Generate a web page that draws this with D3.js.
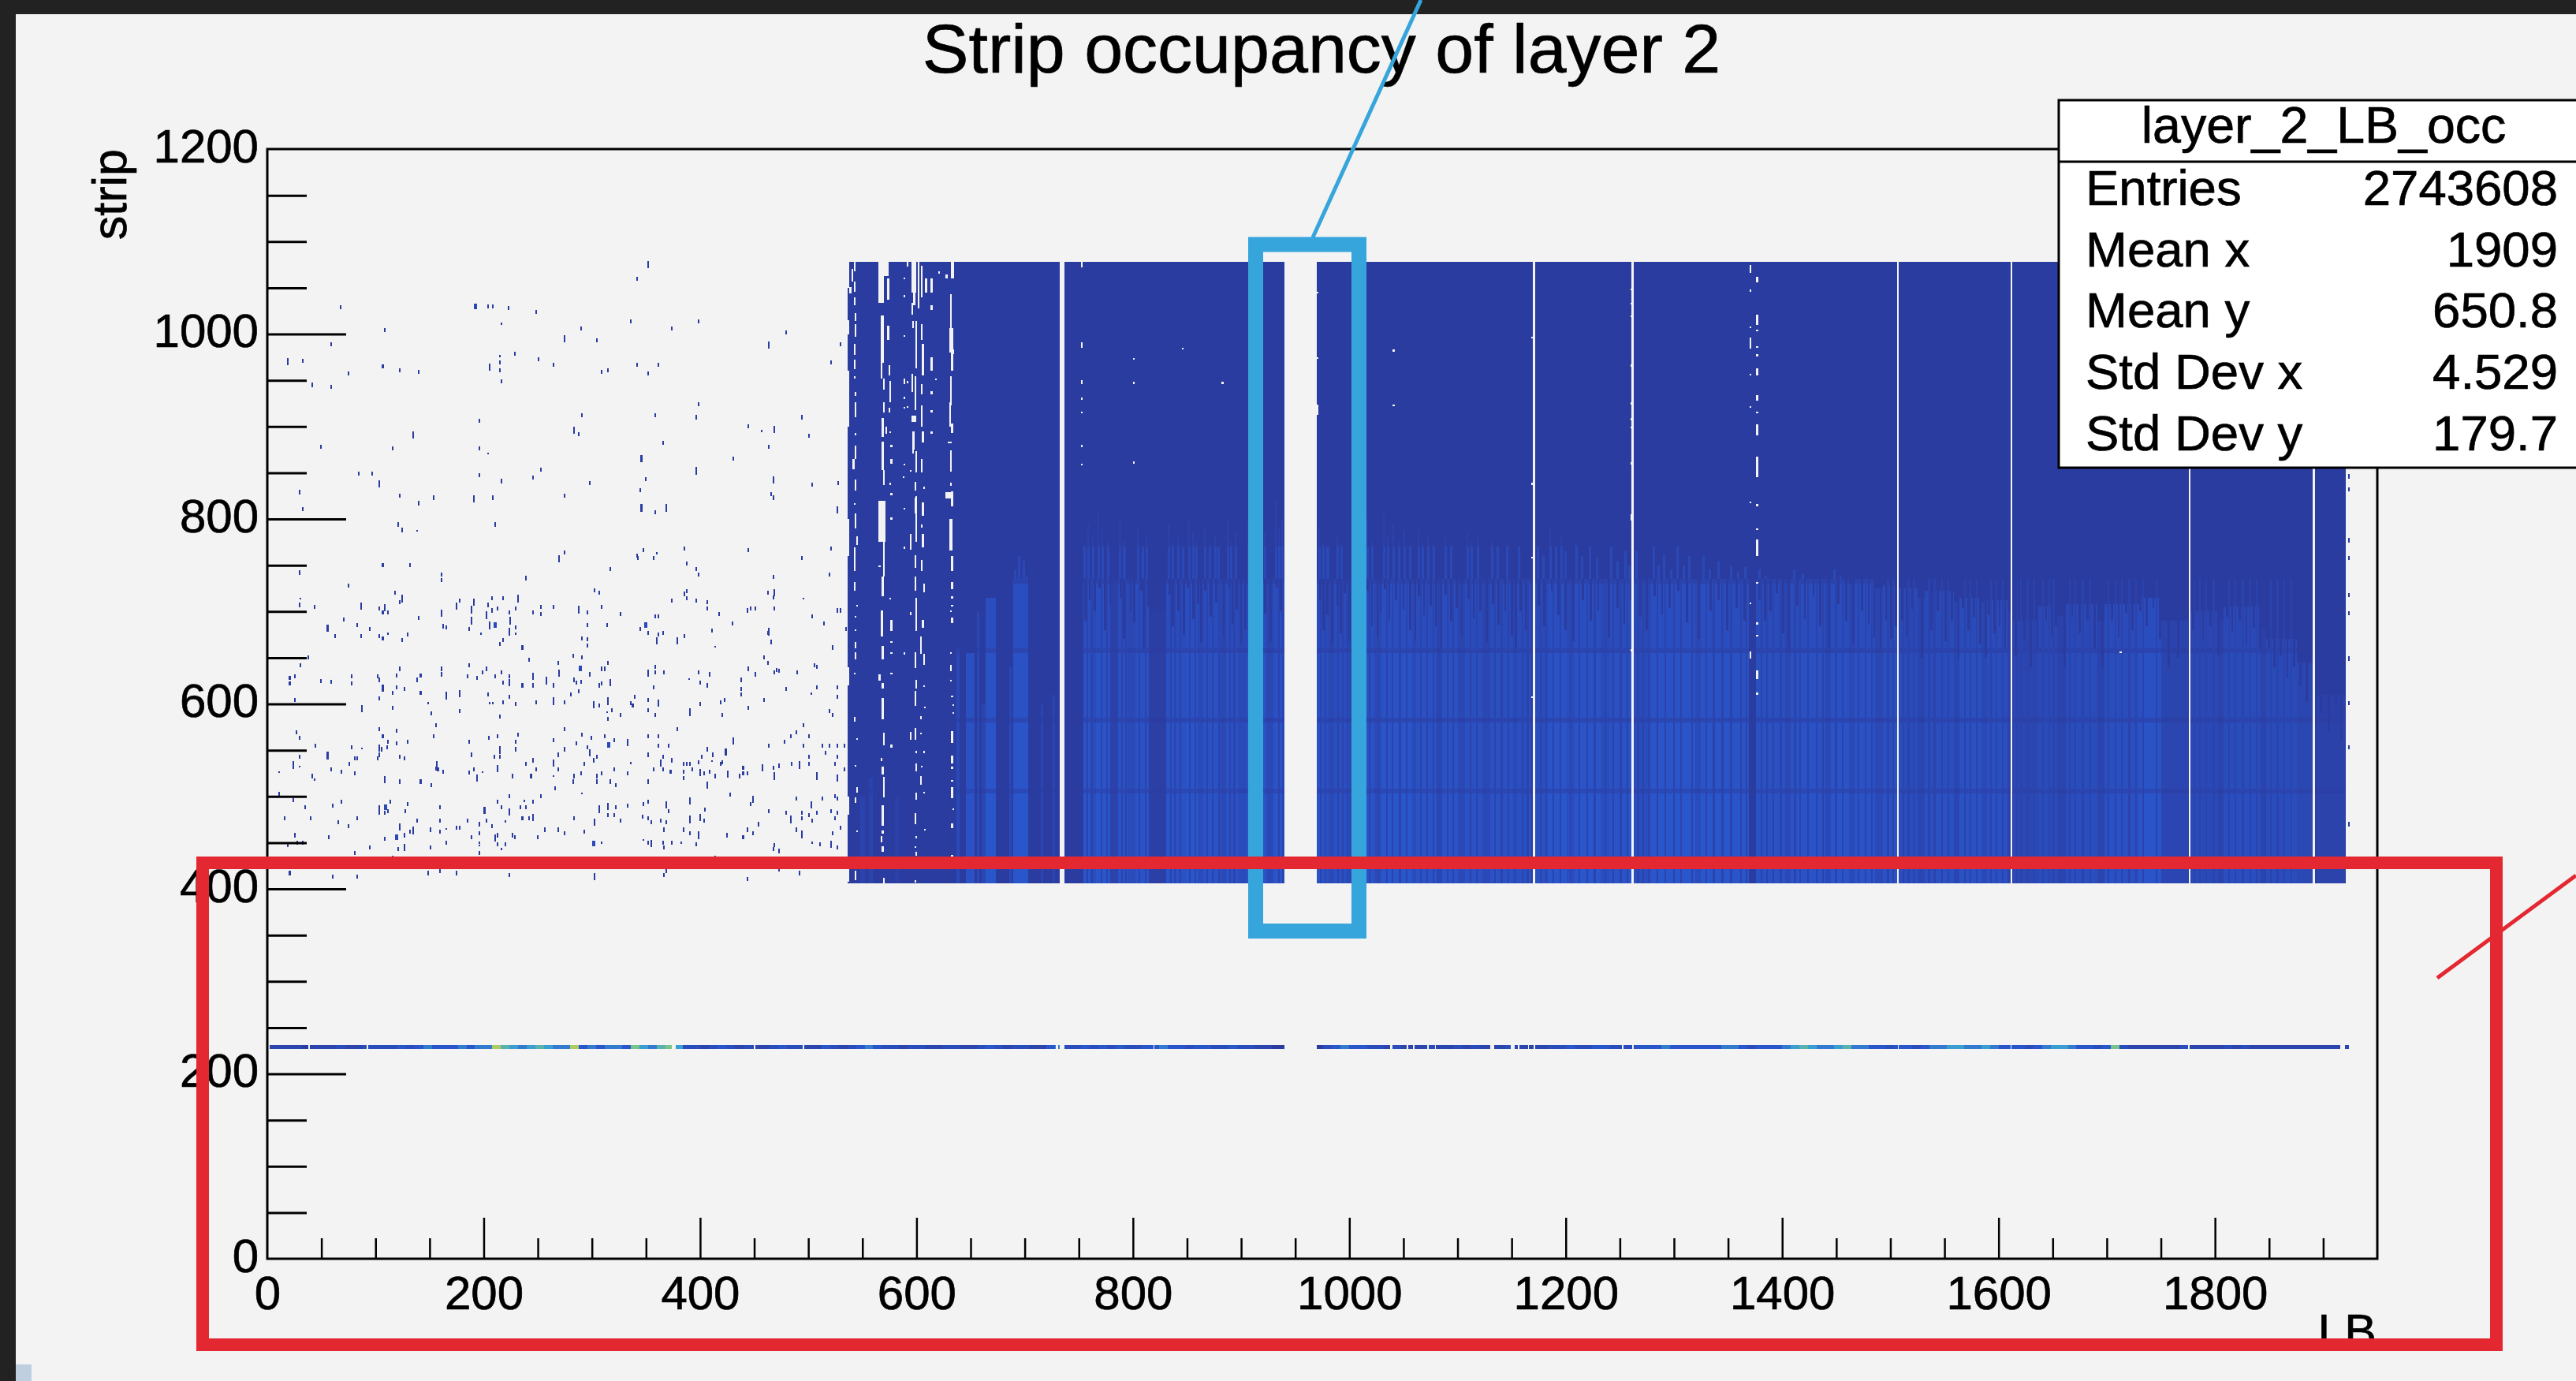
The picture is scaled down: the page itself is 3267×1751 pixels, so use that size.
<!DOCTYPE html>
<html><head><meta charset="utf-8"><style>html,body{margin:0;padding:0;background:#f3f3f3;overflow:hidden}svg{display:block}text{font-family:"Liberation Sans",Arial,sans-serif;fill:#000;stroke:#000;stroke-width:.7px}</style>
<script src="https://cdn.jsdelivr.net/npm/d3@7/dist/d3.min.js"></script></head><body><svg id="c" width="3267" height="1751"></svg>
<script>
const titleText="Strip occupancy of layer 2", xLabel="LB", yLabel="strip";
const xMajor=[0,200,400,600,800,1000,1200,1400,1600,1800];
const xMinor=[50,100,150,250,300,350,450,500,550,650,700,750,850,900,950,1050,1100,1150,1250,1300,1350,1450,1500,1550,1650,1700,1750,1850,1900];
const yMajor=[0,200,400,600,800,1000,1200];
const yMinor=[50,100,150,250,300,350,450,500,550,650,700,750,850,900,950,1050,1100,1150];
const statsTitle="layer_2_LB_occ";
const statsNames=["Entries","Mean x","Mean y","Std Dev x","Std Dev y"];
const statsValues=["2743608","1909","650.8","4.529","179.7"];

// occupied block of the map: LB and strip range
const blockLB=[536,1921], blockStrip=[406,1078];
// runs with no data (empty columns)
const emptyRuns=[[732,737],[940,970],[1169.5,1171.5],[1261,1262.5],[1506.5,1508],[1611,1612.5],[1775.5,1777],[1890.5,1892.5]];
// occupancy per strip band: low, high, relative level
const rowBands=[[406,503,1],[503,508,.5],[508,580,.92],[580,585,.42],[585,655,.84],[655,660,.38],[660,730,.7],[730,735,.3]];
// occupancy per LB run: from, to, level, highest lit strip
const lbRuns=[
[548,552,.3,500],[556,560,.3,520],[580,584,.2,500],[637,640,.55,660],[645.5,654,.85,655],[656,658,.6,700],[660,664,.4,600],[664,673.5,1,715],[686,688,.5,640],[689,703,1,760],[715,717,.4,600],[726,728,.4,610],
[754,763,1,795],[763,766,.7,780],[766,779,1,810],[779,786,.25,760],[786,795,.9,800],[795,802,.6,775],[802,815,.9,790],[815,831,.12,700],[831,839,.95,795],[839,849,.85,780],[849,860,1,800],[860,865,.6,770],[865,881,.9,790],[881,886,.5,770],[886,897,.9,800],[897,905,.6,775],[905,923,.9,800],[923,930,.5,780],[930,940,.95,820],
[970,981,.85,790],[981,986,.5,770],[986,997,.8,780],[997,1002,.5,770],[1002,1015,.8,790],[1015,1023,.9,800],[1023,1030,.6,775],[1030,1058,1,805],[1058,1062,.6,775],[1062,1081,.9,790],[1081,1086,.4,765],[1086,1100,.9,780],[1100,1107,.5,770],[1107,1123,.85,785],[1123,1130,.5,770],[1130,1151,.85,775],[1151,1155,.5,770],[1155,1168,.8,770],
[1172,1184,.75,770],[1184,1201,1,790],[1201,1208,.7,770],[1208,1232,1,775],[1232,1240,.7,765],[1240,1261,.9,770],
[1263,1279,.7,765],[1279,1300,1,770],[1300,1320,1,755],[1320,1325,.6,745],[1325,1350,1,760],[1350,1369,.95,750],
[1376,1403,.85,745],[1403,1408,.5,735],[1408,1440,.9,745],[1440,1445,.5,735],[1445,1462,.95,745],[1462,1467,.55,730],[1467,1486,.9,735],[1486,1493,.5,725],[1493,1506,.85,728],
[1508,1525,.7,725],[1525,1532,.4,715],[1532,1559,.75,722],[1559,1564,.4,710],[1564,1584,.85,715],[1584,1589,.5,710],[1589,1608,.8,712],[1608,1611,.3,700],
[1613,1637,.45,690],[1637,1654,.65,705],[1654,1662,.35,695],[1662,1691,.7,708],[1691,1698,.35,690],[1698,1730,.8,708],[1730,1750,.95,715],[1750,1775,.4,690],
[1777,1803,.55,700],[1803,1808,.3,690],[1808,1842,.7,705],[1842,1847,.3,680],[1847,1876,.65,670],[1876,1890,.45,645],[1893,1920,.25,610]];
// columns lit above strip 735: LB, highest lit strip
const upperLit=[[690,745],[694,760],[698,755],[701,738],[754,772],[758,795],[762,780],[767,810],[771,790],[776,775],[787,800],[791,775],[804,790],[808,770],[812,782],[832,795],[836,775],[841,780],[845,770],[851,800],[855,785],[858,775],[866,790],[870,772],[875,780],[878,770],[887,800],[890,775],[894,785],[906,800],[910,780],[914,790],[918,772],[921,785],[931,820],[934,790],[937,800],[971,790],[975,775],[979,770],[988,780],[992,772],[1003,790],[1008,775],[1012,782],[1016,800],[1020,775],[1031,805],[1035,780],[1040,795],[1045,775],[1050,788],[1055,772],[1063,790],[1067,775],[1072,782],[1077,772],[1088,780],[1093,772],[1108,785],[1112,775],[1118,780],[1131,775],[1136,770],[1145,772],[1156,770],[1173,770],[1178,760],[1185,790],[1190,770],[1195,780],[1199,765],[1209,775],[1214,760],[1221,770],[1228,758],[1241,770],[1247,755],[1254,765],[1258,750],[1264,765],[1280,770],[1285,750],[1290,762],[1296,745],[1302,770],[1308,750],[1313,760],[1326,760],[1332,745],[1340,755],[1352,750],[1358,742],[1365,748],[1378,745],[1384,738],[1410,745],[1418,740],[1447,745],[1453,738]];
// dark columns through the whole lit area: LB
const darkColumns=[757,761,770,775,789,793,805,811,834,838,843,852,857,868,873,879,889,893,908,913,919,934,938,973,977,989,993,1005,1009,1018,1026,1034,1039,1046,1052,1065,1071,1077,1090,1095,1111,1117,1134,1140,1146,1159,1164,1176,1181,1188,1194,1204,1212,1219,1226,1236,1243,1250,1256,1266,1271,1276,1284,1291,1299,1306,1316,1329,1336,1344,1352,1361,1366,1380,1385,1391,1398,1411,1416,1423,1431,1437,1449,1455,1470,1476,1482,1497,1502,1511,1516,1521,1535,1540,1547,1553,1568,1573,1579,1592,1597,1603,1616,1620,1626,1632,1640,1646,1650,1665,1670,1677,1684,1701,1707,1713,1720,1726,1733,1745,1780,1785,1791,1798,1812,1818,1825,1832,1838,1851,1857,1863,1870];
// dark from a given strip upward: LB, lowest dark strip
const raggedColumns=[[755,690],[759,712],[764,700],[768,725],[773,680],[778,706],[788,715],[791,670],[797,700],[800,688],[807,722],[809,660],[813,705],[833,718],[836,684],[841,700],[846,675],[850,726],[855,692],[859,708],[862,666],[866,722],[871,694],[876,710],[883,672],[888,724],[891,686],[895,702],[899,664],[903,680],[907,720],[911,690],[916,708],[921,698],[926,668],[932,726],[936,700],[972,712],[975,680],[979,696],[983,664],[988,706],[991,676],[995,720],[999,668],[1003,712],[1007,688],[1012,700],[1016,722],[1020,684],[1025,672],[1028,698],[1032,724],[1036,690],[1042,712],[1049,702],[1055,680],[1060,668],[1063,716],[1068,696],[1074,706],[1079,684],[1084,660],[1088,718],[1093,690],[1098,704],[1103,672],[1109,714],[1114,692],[1120,700],[1126,666],[1132,708],[1137,686],[1143,700],[1149,674],[1153,660],[1157,700],[1162,680],[1174,706],[1179,684],[1186,722],[1192,696],[1199,680],[1206,668],[1215,712],[1222,690],[1229,700],[1239,672],[1247,704],[1253,686],[1259,712],[1268,694],[1274,680],[1281,716],[1288,696],[1295,704],[1303,722],[1311,688],[1322,670],[1333,700],[1340,712],[1348,680],[1357,704],[1364,690],[1378,712],[1383,690],[1388,700],[1394,720],[1400,676],[1405,660],[1413,706],[1420,692],[1428,716],[1434,684],[1442,660],[1451,708],[1458,690],[1465,664],[1473,700],[1479,686],[1484,672],[1490,660],[1495,690],[1500,670],[1504,684],[1510,690],[1514,672],[1519,702],[1528,650],[1537,680],[1543,700],[1550,668],[1556,690],[1562,650],[1566,704],[1571,680],[1576,694],[1582,664],[1587,650],[1590,696],[1595,676],[1600,684],[1605,660],[1615,652],[1623,668],[1629,640],[1635,660],[1643,690],[1648,672],[1652,684],[1660,640],[1667,694],[1674,676],[1681,690],[1688,660],[1695,640],[1704,690],[1710,672],[1717,698],[1723,680],[1730,700],[1736,684],[1742,704],[1748,670],[1756,640],[1765,650],[1779,680],[1788,668],[1795,684],[1802,652],[1810,694],[1815,678],[1822,690],[1828,664],[1835,682],[1841,660],[1849,660],[1854,640],[1860,652],[1866,628],[1872,640],[1878,620],[1884,602],[1897,590],[1904,570],[1911,600],[1916,560]];
// thin columns of strip 229 line: level (0-9) every 8 LB
const lineLevels=[1,1,1,1,0,1,1,1,2,1,1,2,2,2,2,3,2,3,4,3,3,3,4,3,4,4,8,6,5,4,5,6,5,4,4,8,3,4,3,4,4,3,7,5,4,6,7,5,2,2,1,2,3,2,1,2,1,1,2,3,2,2,1,1,3,2,1,2,3,4,3,2,2,1,2,2,1,1,2,2,1,1,2,3,2,1,2,2,1,1,3,4,2,2,3,2,3,2,3,2,2,3,3,4,3,3,2,3,3,2,2,3,2,2,1,1,0,0,0,0,0,0,2,3,4,3,3,2,2,1,2,1,1,1,2,1,1,2,1,2,1,1,1,2,1,1,1,1,2,2,3,2,2,3,3,2,2,2,3,3,3,4,3,3,3,3,3,3,4,4,3,2,3,3,3,4,5,6,5,4,4,5,6,4,4,3,3,2,3,3,2,3,4,4,5,5,4,4,5,4,3,3,3,2,3,4,5,5,4,3,3,2,3,7,2,1,1,1,1,1,1,2,1,1,1,1,2,1,2,1,1,1,1,1,1,1,1,1,1,1,1];
const lineStrip=229, lineHalf=2.3;
const lineGaps=[[38,39.5],[91.5,93],[374,377.5],[449.5,451],[494.5,496],[728.6,730.6],[732,737],[819,820],[940,970],[1038,1040],[1053,1054.5],[1059,1060.5],[1072,1073.5],[1079,1080],[1130,1134],[1149,1153],[1156,1157],[1165,1166],[1170,1172],[1252,1253],[1261.5,1263],[1507,1508],[1611,1612],[1775,1776.5],[1916,1920]];
// isolated hits before the block: LB, strip
const hits=[[67,1029],[203,1030],[208,1030],[222,1028],[248,1024],[335,1014],[398,1014],[373,1006],[289,1006],[108,1004],[479,1002],[304,993],[58,989],[529,989],[341,1060],[228,979],[32,971],[250,973],[214,969],[106,965],[264,967],[341,967],[361,967],[520,969],[122,961],[139,959],[214,961],[308,959],[314,961],[74,957],[351,957],[41,945],[58,943],[216,949],[398,924],[290,912],[358,912],[396,910],[493,910],[195,906],[444,900],[287,892],[500,890],[49,878],[115,876],[195,876],[365,882],[463,878],[430,865],[252,853],[84,849],[96,849],[195,847],[245,845],[349,843],[216,841],[297,839],[503,837],[527,839],[29,829],[122,825],[274,825],[344,831],[465,827],[467,823],[153,823],[208,823],[139,817],[32,811],[358,807],[120,794],[210,794],[124,788],[274,764],[385,768],[347,766],[444,766],[520,768],[341,760],[342,758],[356,758],[493,758],[106,750],[131,750],[387,752],
[29,742],[160,740],[160,734],[238,736],[316,746],[396,746],[398,740],[519,740],[467,737],[74,728],[117,720],[122,710],[29,707],[43,705],[103,703],[106,699],[111,699],[139,693],[70,691],[82,685],[94,681],[62,673],[86,673],[103,673],[106,671],[129,675],[124,669],[177,712],[207,714],[217,714],[203,707],[207,701],[212,703],[223,699],[229,703],[245,699],[252,705],[252,697],[264,705],[295,699],[308,705],[326,697],[358,695],[361,695],[162,684],[165,683],[186,681],[229,683],[217,669],[214,665],[235,661],[302,723],[306,720],[387,722],[385,719],[373,712],[387,714],[396,712],[406,710],[406,703],[417,697],[443,701],[446,703],[450,703],[468,703],[462,720],[467,715],[526,701],[529,701],[503,695],[514,687],[429,687],[344,681],[351,677],[295,685],[313,685],[410,679],[365,677],[361,675],[462,677],[385,673],[290,671],[295,670],[295,663],[465,667],[522,661],[534,681],
[37,650],[30,642],[282,652],[290,650],[241,648],[458,650],[462,644],[268,644],[314,644],[358,640],[122,638],[160,638],[160,632],[186,642],[202,638],[198,634],[184,630],[193,628],[210,630],[216,634],[223,630],[217,623],[308,638],[311,638],[505,642],[507,640],[444,638],[450,632],[470,637],[468,634],[472,636],[489,634],[358,634],[366,634],[398,634],[408,632],[297,632],[245,620],[235,620],[264,620],[283,626],[285,623],[289,624],[308,622],[306,620],[399,623],[406,620],[437,626],[437,616],[437,610],[356,618],[479,616],[507,618],[526,618],[526,608],[25,630],[20,628],[20,622],[49,625],[58,624],[77,630],[77,622],[101,630],[103,626],[119,631],[141,631],[138,626],[119,618],[126,616],[115,612],[141,612],[103,606],[203,610],[223,608],[25,604],[217,602],[229,600],[248,602],[274,602],[280,610],[287,614],[306,598],[339,608],[335,601],[337,598],[351,604],[399,600],[418,602],[422,604],[458,604],[115,596],[151,590],[177,592],[214,586],[318,593],[326,588],[314,584],[351,593],[358,588],[420,588],[444,596],[519,592],[522,588],[536,599],
[155,577],[103,573],[119,571],[274,573],[378,573],[495,577],[488,569],[26,569],[29,563],[106,565],[153,565],[212,565],[204,563],[231,567],[229,559],[290,567],[299,563],[311,565],[320,561],[351,565],[361,565],[483,565],[500,565],[44,555],[111,559],[119,557],[129,559],[110,553],[105,551],[77,553],[186,559],[264,561],[285,557],[361,555],[370,555],[463,555],[477,559],[495,555],[512,555],[519,555],[526,555],[533,555],[29,543],[80,541],[82,541],[103,545],[101,541],[122,543],[126,541],[188,545],[229,551],[209,543],[214,543],[268,545],[274,551],[295,553],[304,543],[301,539],[351,545],[365,543],[373,539],[401,543],[406,551],[411,545],[500,543],[515,547],[526,543],[245,539],[238,535],[292,535],[75,535],[155,530],[384,535],[387,535],[390,535],[398,537],[420,537],[418,535],[484,535],[500,535],[472,533],[467,531],[524,535],
[58,529],[68,527],[80,525],[41,522],[157,529],[162,527],[190,529],[186,526],[226,522],[243,522],[248,529],[268,529],[320,529],[332,525],[283,522],[289,525],[308,525],[304,522],[356,529],[365,529],[372,527],[384,527],[384,520],[392,529],[403,525],[408,527],[413,522],[436,522],[439,531],[439,525],[443,525],[533,529],[122,516],[141,516],[151,512],[304,516],[316,516],[321,512],[282,516],[351,516],[265,509],[10,503],[23,496],[68,494],[60,490],[34,488],[113,494],[129,492],[103,488],[108,482],[111,484],[127,484],[159,488],[212,494],[223,500],[252,500],[245,494],[216,488],[233,488],[238,488],[321,488],[332,490],[347,492],[351,494],[370,484],[404,486],[427,502],[446,492],[488,498],[512,498],[524,500],[526,498],[463,484],[479,482],[493,482],[507,482],[500,480],[520,484],[526,482],
[15,476],[39,476],[65,472],[82,476],[74,468],[138,474],[159,474],[184,474],[202,474],[235,476],[241,476],[195,470],[207,468],[283,476],[314,480],[320,480],[326,474],[346,478],[351,476],[354,472],[363,474],[368,472],[403,474],[493,476],[503,474],[524,476],[453,470],[131,462],[150,464],[159,462],[174,466],[177,466],[256,464],[268,464],[274,460],[292,462],[366,464],[384,464],[390,460],[443,464],[448,460],[488,464],[529,466],[522,460],[424,458],[439,456],[25,458],[56,456],[108,454],[126,458],[188,456],[195,460],[226,458],[228,456],[212,458],[249,456],[18,447],[27,450],[32,450],[94,445],[120,443],[150,445],[165,450],[212,448],[219,448],[195,439],[351,450],[365,450],[366,445],[373,450],[396,448],[467,443],[468,447],[472,441],[510,448],[526,445],[80,439],[20,417],[60,413],[82,413],[148,417],[159,419],[174,417],[223,415],[366,415],[368,419],[443,411],[491,417],
[1923,846],[1923,832],[1923,777],[1923,758],[1923,718],[1923,698],[1923,649],[1923,601],[1923,553],[1923,470]];
const hitsShort=[[214,976],[216,1011],[456,895],[138,787],[203,871],[359,763],[30,714],[111,676],[495,714],[197,676],[229,676],[413,662],[389,627],[502,611],[205,601],[208,601],[148,601],[313,591],[87,552],[335,536],[29,532],[410,538],[10,526],[43,518],[198,526],[264,522],[290,503],[237,495],[219,473],[165,465],[195,450],[195,447],[216,443],[308,450],[347,453],[382,450],[503,450],[115,435],[413,435],[472,420]];
const hitsLong=[[351,1075],[274,995],[463,988],[18,970],[205,964],[283,896],[468,897],[134,891],[345,865],[396,852],[467,842],[103,838],[190,822],[345,812],[368,812],[526,810],[269,757],[124,714],[86,706],[108,704],[160,698],[55,682],[174,706],[190,710],[188,702],[231,714],[202,696],[287,702],[188,690],[224,690],[205,685],[223,678],[468,720],[463,678],[359,668],[378,668],[223,623],[351,633],[269,633],[245,630],[257,625],[316,623],[106,617],[165,609],[177,611],[264,603],[301,599],[314,603],[361,601],[87,595],[390,591],[103,552],[332,558],[430,560],[55,544],[214,550],[297,547],[423,548],[264,536],[23,534],[156,534],[363,536],[491,534],[457,531],[193,520],[212,530],[399,526],[425,524],[468,522],[507,522],[526,520],[108,518],[406,512],[103,484],[200,485],[223,483],[306,486],[314,489],[368,491],[390,495],[448,497],[502,491],[245,477],[302,472],[390,475],[399,477],[483,475],[122,467],[134,463],[398,458],[493,459],[210,455],[126,445],[354,449],[520,448],[302,413]];
const hitsWide=[[191,1030],[209,685],[348,685],[288,638],[314,556],[108,488],[118,456],[300,449]];
// empty cells inside the occupied block: from, to, low strip, high strip
const holeBlocks=[[565,574,1063,1078],[565,570,1034,1063],[567,570,969,1020],[595,600,1045,1078],[568,570,853,884],[565,571,775,820],[567,569,673,701],[568,570,648,663],[595,600,905,912],[596,598,875,895],[630,634,980,1006],[627,633,822,829],[630,633,766,800],[632,635,1060,1078],[568,570,617,623]];
// single-column holes: LB, low strip, high strip
const holes=[[542,1068,1078],[540,1057,1070],[542,1046,1057],[538,1044,1051],[542,1031,1040],[543,1014,1023],[543,997,1011],[542,977,989],[542,962,972],[542,952,954],[543,933,937],[543,910,926],[543,890,893],[573,1037,1060],[573,994,1009],[574,955,966],[567,952,969],[569,940,952],[575,926,949],[569,915,926],[574,915,920],[568,889,909],[571,892,900],[575,893,895],[591,1073,1078],[597,1031,1045],[595,1021,1034],[601,1028,1078],[604,1040,1074],[608,1045,1060],[613,1045,1060],[596,1006,1014],[599,963,1014],[604,994,1011],[605,955,989],[595,937,957],[598,918,954],[604,935,946],[604,900,923],[605,883,895],[613,960,975],[613,1026,1031],[613,935,938],[613,915,918],[613,892,895],[617,950,952],[620,1065,1068],[627,1060,1064],[588,1059,1061],[588,1040,1042],[588,997,999],[588,946,952],[591,947,949],[588,930,932],[588,919,921],[591,920,922],[631,1006,1043],[633,978,983],[632,960,980],[631,923,954],[630,900,926],[632,893,903],[629,882,884],[631,882,884],
[543,865,879],[541,854,865],[543,831,843],[542,815,817],[543,790,806],[544,772,781],[542,744,769],[542,722,732],[544,705,707],[543,693,695],[543,679,681],[543,660,667],[543,648,656],[542,632,634],[542,581,586],[544,561,563],[543,532,534],[544,504,510],[543,493,499],[544,461,463],[543,409,420],[569,837,853],[576,878,880],[576,860,865],[575,837,839],[576,826,828],[576,799,802],[569,738,775],[565,748,750],[568,716,738],[575,713,715],[576,679,691],[576,666,668],[576,654,656],[565,625,632],[576,632,634],[568,583,606],[569,555,569],[576,553,556],[567,538,542],[568,524,532],[569,499,521],[568,468,490],[568,460,463],[567,450,457],[568,440,446],[569,406,412],
[596,871,884],[599,850,873],[604,850,865],[588,858,860],[594,851,853],[587,844,846],[598,831,840],[606,832,835],[598,806,823],[599,775,825],[605,803,818],[588,810,812],[604,791,794],[605,769,784],[594,767,784],[588,768,770],[598,747,761],[604,744,756],[598,722,738],[606,721,730],[599,679,715],[594,696,699],[605,682,691],[603,654,673],[598,639,656],[606,642,654],[588,653,656],[599,617,626],[606,618,620],[598,598,614],[607,595,597],[603,583,587],[594,561,570],[598,561,574],[603,567,569],[599,547,549],[606,547,549],[599,527,536],[604,531,533],[603,513,522],[599,496,504],[606,503,505],[598,470,482],[607,463,465],[599,455,457],[598,444,446],[599,436,440],[598,407,409],
[631,851,874],[631,836,839],[632,814,830],[632,744,760],[632,724,732],[632,714,716],[632,705,707],[631,699,701],[632,687,693],[631,654,656],[631,635,642],[631,624,626],[632,607,609],[633,598,600],[633,589,591],[632,558,571],[632,536,544],[632,530,532],[632,516,518],[632,498,510],[633,485,487],[632,466,471],[632,435,437],
[752,1072,1078],[752,985,991],[752,946,950],[752,929,931],[752,914,916],[752,878,880],[752,858,860],[800,972,974],[800,946,948],[800,860,862],[845,983,985],[882,946,948],[1040,981,983],[1040,922,924],[970,1044,1046],[970,973,975],[970,913,924],[1168,995,997],[1168,837,839],[1168,757,759],[1168,606,608],
[1370,1066,1075],[1376,1056,1062],[1370,1046,1048],[1376,1010,1021],[1370,1006,1008],[1376,1003,1005],[1370,984,996],[1376,985,987],[1376,976,978],[1376,955,963],[1370,955,957],[1376,928,934],[1370,920,922],[1376,914,916],[1376,890,902],[1376,845,867],[1370,817,819],[1376,814,816],[1376,788,790],[1376,760,778],[1376,730,732],[1370,708,710],[1376,686,688],[1376,673,675],[1370,649,657],[1376,627,636],[1376,610,612],
[1260,1047,1049],[1260,1032,1034],[1260,1018,1020],[1260,965,967],[1260,924,926],[1260,907,909],[1260,898,900],[1260,859,861],[1260,798,805],[1260,657,659],[1712,655,657],[536,1050,1078],[536,1000,1015],[536,900,960],[536,760,800],[536,620,640],[536,480,500],[536,408,430]];

const W=3267,H=1751;
const m={l:339,r:3015,t:189,b:1596};
const x=d3.scaleLinear().domain([0,1950]).range([m.l,m.r]);
const y=d3.scaleLinear().domain([0,1200]).range([m.b,m.t]);
const BG="#f3f3f3", BASE="#2b3ca0";
const heatColor=d3.scaleLinear().domain([0,1]).range([BASE,"#2a56cc"]);
const rainbow=d3.scaleLinear().domain([0,3,5,7,9]).range(["#2b3ca0","#2a56cc","#3a9fd0","#78c48c","#e6d23c"]);
const svg=d3.select("#c");
svg.append("rect").attr("width",W).attr("height",H).attr("fill",BG);
svg.append("rect").attr("width",W).attr("height",18).attr("fill","#222");
svg.append("rect").attr("width",20).attr("height",H).attr("fill","#222");
svg.append("rect").attr("x",20).attr("y",1730).attr("width",20).attr("height",21).attr("fill","#c0cfe0");

const plot=svg.append("g").attr("shape-rendering","crispEdges");
const rect=(g,l0,l1,s0,s1,c)=>g.append("rect").attr("x",x(l0)).attr("width",Math.max(x(l1)-x(l0),1)).attr("y",y(s1)).attr("height",y(s0)-y(s1)).attr("fill",c);
// occupied block
rect(plot,blockLB[0],blockLB[1],blockStrip[0],blockStrip[1],BASE);
const cells=[];
lbRuns.forEach(([a,b,lev,top])=>rowBands.forEach(([s0,s1,f])=>{
  const hi=Math.min(s1,top); if(hi>s0) cells.push({a,b,s0,hi,v:lev*f});
}));
plot.append("g").selectAll("rect").data(cells).join("rect")
 .attr("x",d=>x(d.a)).attr("width",d=>x(d.b)-x(d.a)).attr("y",d=>y(d.hi)).attr("height",d=>y(d.s0)-y(d.hi)).attr("fill",d=>heatColor(d.v));
// columns lit above strip 735
const ug=plot.append("g");
upperLit.forEach(([l,t])=>{
  rect(ug,l,l+2.2,735,Math.min(t,770),heatColor(.5));
  if(t>770) rect(ug,l,l+1.5,770,t,heatColor(.22));
});
// dark columns
const dg=plot.append("g");
darkColumns.forEach(l=>rect(dg,l,l+1.6,406,735,heatColor(.28)));
raggedColumns.forEach(([l,s])=>rect(dg,l,l+2,s,735,BASE));
// empty cells
const hg=plot.append("g");
emptyRuns.forEach(([a,b])=>rect(hg,a,b,blockStrip[0],blockStrip[1]+.5,BG));
holeBlocks.forEach(([a,b,s0,s1])=>rect(hg,a,b,s0,s1,BG));
holes.forEach(([l,s0,s1])=>rect(hg,l,l+1.7,s0,s1,BG));
// isolated hits
const hitG=plot.append("g");
hits.forEach(([l,s])=>rect(hitG,l,l+1.5,s-2.2,s+2.2,BASE));
hitsShort.forEach(([l,s])=>rect(hitG,l,l+1.5,s-1,s+1,BASE));
hitsLong.forEach(([l,s])=>rect(hitG,l,l+1.5,s-4,s+4,BASE));
hitsWide.forEach(([l,s])=>rect(hitG,l,l+3,s-3,s+3,"#2a48b8"));
// strip 229 line
const lg=plot.append("g");
lineLevels.forEach((v,i)=>{
  const a=i*8, b=Math.min(a+8,1924); if(a<1924) rect(lg,Math.max(a,2),b,lineStrip-lineHalf,lineStrip+lineHalf,rainbow(v));
});
lineGaps.forEach(([a,b])=>rect(lg,a,b,lineStrip-lineHalf-1,lineStrip+lineHalf+1,BG));

// frame and axes
const style=(g,w)=>{g.select(".domain").remove();g.selectAll(".tick line").attr("stroke","#000").attr("stroke-width",w);};
const axes=svg.append("g");
axes.append("rect").attr("x",m.l).attr("y",m.t).attr("width",m.r-m.l).attr("height",m.b-m.t).attr("fill","none").attr("stroke","#000").attr("stroke-width",3);
const gx=axes.append("g").attr("transform",`translate(0,${m.b})`).call(d3.axisBottom(x).tickValues(xMajor).tickSize(-52).tickFormat(d3.format("d")));
style(gx,2.5);
gx.selectAll(".tick").filter(d=>d===0).select("line").remove();
gx.selectAll("text").attr("y",64).attr("dy",0).style("font-size","60px").attr("font-family",null);
const gx2=axes.append("g").attr("transform",`translate(0,${m.b})`).call(d3.axisBottom(x).tickValues(xMinor).tickSize(-26).tickFormat(""));
style(gx2,2.5);
const gy=axes.append("g").attr("transform",`translate(${m.l},0)`).call(d3.axisLeft(y).tickValues(yMajor).tickSize(-100).tickPadding(11).tickFormat(d3.format("d")));
style(gy,3);
gy.selectAll(".tick").filter(d=>d===0||d===1200).select("line").remove();
gy.selectAll("text").attr("dy",16).style("font-size","60px").attr("font-family",null);
const gy2=axes.append("g").attr("transform",`translate(${m.l},0)`).call(d3.axisLeft(y).tickValues(yMinor).tickSize(-50).tickFormat(""));
style(gy2,3);
svg.append("text").attr("x",1676).attr("y",92).attr("text-anchor","middle").style("font-size","88px").text(titleText);
svg.append("text").attr("transform","translate(160,189) rotate(-90)").attr("text-anchor","end").style("font-size","61px").text(yLabel);
svg.append("text").attr("x",3014).attr("y",1709).attr("text-anchor","end").style("font-size","61px").text(xLabel);

// stats box
const st=svg.append("g");
st.append("rect").attr("x",2611).attr("y",127).attr("width",700).attr("height",466).attr("fill","#fff").attr("stroke","#000").attr("stroke-width",3);
st.append("line").attr("x1",2611).attr("x2",3267).attr("y1",205).attr("y2",205).attr("stroke","#000").attr("stroke-width",3);
st.append("text").attr("x",2947).attr("y",181).attr("text-anchor","middle").style("font-size","64.5px").text(statsTitle);
const rowY=[260,338,415,493,571];
statsNames.forEach((n,i)=>{
  st.append("text").attr("x",2645).attr("y",rowY[i]).style("font-size","63.5px").text(n);
  st.append("text").attr("x",3244).attr("y",rowY[i]).attr("text-anchor","end").style("font-size","63.5px").text(statsValues[i]);
});

// annotation overlays
const BLUE="#36a5dc", RED="#e42832";
svg.append("line").attr("x1",1802).attr("y1",0).attr("x2",1665).attr("y2",301).attr("stroke",BLUE).attr("stroke-width",5);
svg.append("rect").attr("x",1592.5).attr("y",310).attr("width",131).attr("height",870.5).attr("fill","none").attr("stroke",BLUE).attr("stroke-width",19);
svg.append("line").attr("x1",3091).attr("y1",1240).attr("x2",3267).attr("y2",1110).attr("stroke",RED).attr("stroke-width",5);
svg.append("rect").attr("x",257).attr("y",1094).attr("width",2909).attr("height",611).attr("fill","none").attr("stroke",RED).attr("stroke-width",16);
</script></body></html>
